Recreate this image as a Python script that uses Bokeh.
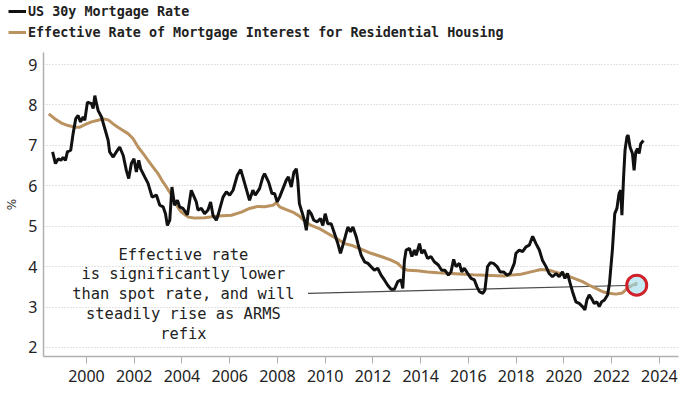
from bokeh.plotting import figure
from bokeh.layouts import column
from bokeh.models import Legend, LegendItem, FixedTicker, Range1d
from bokeh.core.properties import value
from bokeh.embed import file_html
from bokeh.resources import INLINE

# ---------------- data ----------------
spot_years = [1998.58, 1998.70, 1998.82, 1998.93, 1999.02, 1999.12, 1999.20, 1999.34, 1999.44, 1999.55,
              1999.65, 1999.75, 1999.86, 1999.93, 2000.04, 2000.21, 2000.28, 2000.35, 2000.42, 2000.49,
              2000.63, 2000.77, 2000.91, 2000.97, 2001.12, 2001.21, 2001.39, 2001.54, 2001.67, 2001.77,
              2001.88, 2001.99, 2002.09, 2002.19, 2002.27, 2002.44, 2002.58, 2002.75, 2002.93, 2003.07,
              2003.21, 2003.31, 2003.39, 2003.49, 2003.58, 2003.69, 2003.81, 2003.90, 2004.04, 2004.23,
              2004.39, 2004.60, 2004.67, 2004.81, 2004.95, 2005.09, 2005.20, 2005.30, 2005.44, 2005.51,
              2005.72, 2005.86, 2006.00, 2006.14, 2006.32, 2006.46, 2006.55, 2006.69, 2006.83, 2006.97,
              2007.07, 2007.25, 2007.39, 2007.46, 2007.63, 2007.77, 2007.88, 2007.99, 2008.09, 2008.23,
              2008.37, 2008.46, 2008.58, 2008.69, 2008.79, 2008.85, 2008.92, 2009.00, 2009.13, 2009.21,
              2009.30, 2009.41, 2009.52, 2009.67, 2009.80, 2009.90, 2010.00, 2010.11, 2010.25, 2010.39,
              2010.53, 2010.64, 2010.74, 2010.84, 2010.95, 2011.06, 2011.16, 2011.30, 2011.37, 2011.51,
              2011.65, 2011.79, 2011.92, 2012.06, 2012.20, 2012.34, 2012.48, 2012.62, 2012.76, 2012.90,
              2013.04, 2013.18, 2013.25, 2013.32, 2013.39, 2013.53, 2013.63, 2013.74, 2013.81, 2013.95,
              2014.04, 2014.15, 2014.29, 2014.43, 2014.57, 2014.74, 2014.88, 2015.02, 2015.16, 2015.27,
              2015.38, 2015.48, 2015.62, 2015.72, 2015.83, 2015.97, 2016.11, 2016.25, 2016.36, 2016.46,
              2016.60, 2016.69, 2016.80, 2016.92, 2017.05, 2017.20, 2017.33, 2017.47, 2017.62, 2017.75,
              2017.92, 2017.99, 2018.13, 2018.27, 2018.41, 2018.55, 2018.69, 2018.83, 2018.97, 2019.10,
              2019.25, 2019.38, 2019.52, 2019.67, 2019.80, 2019.94, 2020.04, 2020.15, 2020.26, 2020.36,
              2020.50, 2020.64, 2020.78, 2020.88, 2020.96, 2021.06, 2021.16, 2021.27, 2021.38, 2021.48,
              2021.58, 2021.69, 2021.83, 2021.91, 2022.03, 2022.13, 2022.22, 2022.31, 2022.38, 2022.43,
              2022.50, 2022.56, 2022.64, 2022.69, 2022.77, 2022.87, 2022.94, 2023.01, 2023.08, 2023.15,
              2023.22, 2023.33]
spot_rate = [6.84, 6.55, 6.67, 6.63, 6.70, 6.63, 6.84, 6.88, 7.29, 7.66,
             7.74, 7.58, 7.70, 7.62, 8.07, 8.03, 7.91, 8.23, 8.03, 7.86,
             7.70, 7.41, 7.12, 6.84, 6.71, 6.80, 6.96, 6.75, 6.38, 6.18,
             6.55, 6.67, 6.34, 6.63, 6.42, 6.22, 6.06, 5.72, 5.77, 5.52,
             5.48, 5.31, 5.02, 5.15, 5.97, 5.52, 5.64, 5.48, 5.44, 5.28,
             5.89, 5.60, 5.40, 5.44, 5.31, 5.40, 5.60, 5.27, 5.15, 5.27,
             5.72, 5.85, 5.77, 5.89, 6.26, 6.40, 6.22, 5.93, 5.64, 5.89,
             5.77, 5.93, 6.22, 6.30, 6.09, 5.81, 5.81, 5.60, 5.72, 5.93,
             6.14, 6.22, 5.97, 6.34, 6.42, 6.14, 5.56, 5.40, 5.15, 4.90,
             5.40, 5.31, 5.15, 5.11, 5.19, 5.02, 5.31, 5.06, 5.06, 4.82,
             4.57, 4.33, 4.53, 4.74, 4.98, 4.86, 4.98, 4.74, 4.57, 4.28,
             4.12, 4.08, 4.00, 3.91, 3.96, 3.79, 3.67, 3.54, 3.44, 3.44,
             3.63, 3.67, 3.46, 4.16, 4.41, 4.45, 4.25, 4.41, 4.28, 4.57,
             4.33, 4.41, 4.20, 4.25, 4.12, 4.04, 3.91, 3.91, 3.79, 3.87,
             4.18, 4.00, 4.08, 3.87, 3.96, 3.83, 3.71, 3.67, 3.50, 3.38,
             3.34, 3.42, 4.00, 4.10, 4.08, 4.00, 3.87, 3.87, 3.79, 3.83,
             4.08, 4.33, 4.41, 4.37, 4.49, 4.53, 4.75, 4.57, 4.41, 4.16,
             4.00, 3.83, 3.75, 3.83, 3.75, 3.87, 3.71, 3.83, 3.59, 3.38,
             3.13, 3.09, 3.01, 2.93, 3.17, 3.30, 3.21, 3.09, 3.13, 3.01,
             3.13, 3.17, 3.30, 3.59, 4.41, 5.31, 5.44, 5.81, 5.89, 5.27,
             6.22, 6.88, 7.21, 7.25, 6.96, 6.80, 6.38, 6.84, 6.92, 6.80,
             7.04, 7.12]

eff_years = [1998.42, 1998.67, 1998.95, 1999.23, 1999.51, 1999.72, 1999.93, 2000.21, 2000.49, 2000.69,
             2000.91, 2001.12, 2001.32, 2001.53, 2001.74, 2001.95, 2002.16, 2002.37, 2002.58, 2002.79,
             2003.00, 2003.21, 2003.35, 2003.56, 2003.77, 2003.97, 2004.25, 2004.53, 2004.95, 2005.51,
             2006.07, 2006.49, 2006.83, 2007.18, 2007.46, 2007.81, 2007.95, 2008.09, 2008.37, 2008.64,
             2008.92, 2009.13, 2009.41, 2009.76, 2010.11, 2010.46, 2010.81, 2011.09, 2011.51, 2011.92,
             2012.34, 2012.76, 2013.04, 2013.25, 2013.46, 2013.87, 2014.29, 2014.71, 2015.27, 2015.83,
             2016.39, 2016.95, 2017.50, 2017.78, 2018.20, 2018.62, 2019.04, 2019.38, 2019.73, 2020.08,
             2020.43, 2020.78, 2021.06, 2021.34, 2021.62, 2021.90, 2022.18, 2022.45, 2022.66, 2022.87,
             2023.08]
eff_rate = [7.78, 7.66, 7.55, 7.49, 7.45, 7.45, 7.51, 7.58, 7.62, 7.66,
            7.63, 7.53, 7.45, 7.37, 7.29, 7.17, 6.96, 6.80, 6.63, 6.46,
            6.30, 6.09, 5.97, 5.77, 5.52, 5.35, 5.23, 5.20, 5.21, 5.25,
            5.27, 5.35, 5.44, 5.49, 5.48, 5.52, 5.58, 5.48, 5.41, 5.35,
            5.25, 5.13, 5.02, 4.94, 4.82, 4.70, 4.57, 4.53, 4.43, 4.33,
            4.25, 4.16, 4.08, 3.96, 3.91, 3.90, 3.87, 3.85, 3.83, 3.81,
            3.79, 3.78, 3.77, 3.79, 3.81, 3.87, 3.93, 3.91, 3.85, 3.79,
            3.71, 3.63, 3.54, 3.46, 3.38, 3.34, 3.32, 3.35, 3.46, 3.54,
            3.60]

x_ticks = [2000, 2002, 2004, 2006, 2008, 2010, 2012, 2014, 2016, 2018, 2020, 2022, 2024]
y_ticks = [2, 3, 4, 5, 6, 7, 8, 9]

series_names = ["US 30y Mortgage Rate",
                "Effective Rate of Mortgage Interest for Residential Housing"]
note_text = "Effective rate\nis significantly lower\nthan spot rate, and will\nsteadily rise as ARMS\nrefix"

# annotation anchor points (data units)
note_pos = (2004.06, 3.32)
pointer_x = [2009.28, 2023.05]
pointer_y = [3.34, 3.54]

SPOT_COLOR = "#111111"
EFF_COLOR = "#b99260"

# ---------------- legend strip ----------------
leg = figure(width=700, height=44, output_backend="svg", toolbar_location=None,
             x_range=Range1d(0, 1), y_range=Range1d(0, 1),
             x_axis_type=None, y_axis_type=None,
             min_border_left=0, min_border_right=0, min_border_top=0, min_border_bottom=0)
try:
    leg.frame_align = False
except Exception:
    pass
leg.outline_line_color = None
leg.xgrid.grid_line_color = None
leg.ygrid.grid_line_color = None
nan = float("nan")
l_spot = leg.line(x=[nan], y=[nan], line_color=SPOT_COLOR, line_width=3)
l_eff = leg.line(x=[nan], y=[nan], line_color=EFF_COLOR, line_width=3)
legend = Legend(items=[LegendItem(label=series_names[0], renderers=[l_spot]),
                       LegendItem(label=series_names[1], renderers=[l_eff])],
                location=(8, 4), orientation="vertical",
                border_line_color=None, background_fill_alpha=0,
                padding=0, margin=0, spacing=5,
                glyph_width=18, glyph_height=16, label_height=16, label_standoff=2,
                label_text_font="DejaVu Sans Mono", label_text_font_size="13.4px",
                label_text_font_style="bold", label_text_color="#222222")
leg.add_layout(legend, "center")

# ---------------- main figure ----------------
p = figure(width=700, height=348, output_backend="svg", toolbar_location=None,
           x_range=Range1d(1998.20, 2024.80), y_range=Range1d(1.777, 9.297),
           min_border_left=43, min_border_right=22, min_border_bottom=36, min_border_top=8)
p.outline_line_color = None
p.background_fill_color = "white"

p.xgrid.grid_line_color = None
p.ygrid.grid_line_color = "#c4c4c4"
p.ygrid.grid_line_dash = "1 2"
p.ygrid.grid_line_width = 1

p.xaxis.ticker = FixedTicker(ticks=x_ticks)
p.yaxis.ticker = FixedTicker(ticks=y_ticks)

for ax in (p.xaxis[0], p.yaxis[0]):
    ax.axis_line_color = "#b0b0b0"
    ax.axis_line_width = 1.5
    ax.minor_tick_line_color = None
    ax.major_label_text_font = "Noto Sans"
    ax.major_label_text_font_size = "16px"
    ax.major_label_text_color = "#222222"

p.xaxis.major_tick_line_color = "#b0b0b0"
p.xaxis.major_tick_out = 7
p.xaxis.major_tick_in = 0
p.xaxis.major_label_standoff = 6

p.yaxis.major_tick_line_color = None
p.yaxis.major_tick_out = 0
p.yaxis.major_tick_in = 0
p.yaxis.major_label_standoff = 6
p.yaxis.axis_label = "%"
p.yaxis.axis_label_text_font = "DejaVu Sans"
p.yaxis.axis_label_text_font_size = "12px"
p.yaxis.axis_label_text_font_style = "normal"
p.yaxis.axis_label_text_color = "#333333"
p.yaxis.axis_label_standoff = 6

# pointer line
p.line(pointer_x, pointer_y, line_color="#4a4a4a", line_width=1.2)

p.line(eff_years, eff_rate, line_color=EFF_COLOR, line_width=3)
p.line(spot_years, spot_rate, line_color=SPOT_COLOR, line_width=3)

# highlight circle at end of effective rate
p.scatter([pointer_x[1]], [pointer_y[1]], size=20, fill_color="#9fdcec", fill_alpha=0.6,
          line_color="#d0202a", line_width=3)

p.text(x=[note_pos[0]], y=[note_pos[1]], text=[note_text],
       text_font=value("DejaVu Sans Mono"), text_font_size="15.4px",
       text_align="center", text_baseline="middle", text_line_height=1.1,
       text_color="#222222")

layout = column(leg, p, spacing=0)

open("out.html", "w").write(file_html(layout, INLINE))
